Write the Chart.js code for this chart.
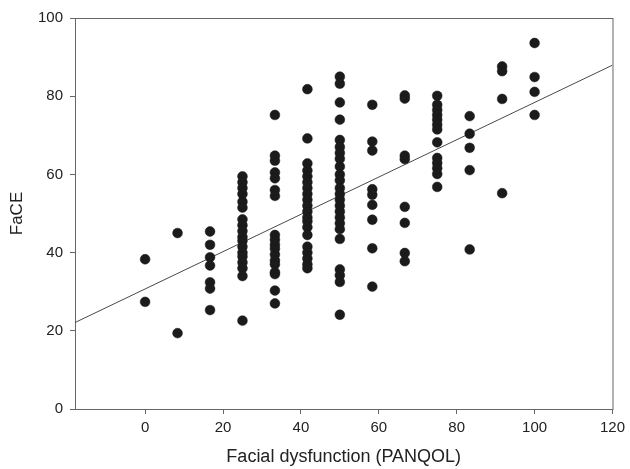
<!DOCTYPE html>
<html lang="en">
<head>
  <meta charset="UTF-8" />
  <title>FaCE vs PANQOL facial dysfunction</title>
  <script src="https://cdn.jsdelivr.net/npm/chart.js"></script>
  <style>
    html, body { margin: 0; padding: 0; background: #fff; }
    canvas { display: block; }
  </style>
</head>
<body>
  <canvas id="scatter" width="630" height="469"></canvas>

  <script>
    // PANQOL facial dysfunction levels (x) and the FaCE scores seen at each level
    const panqolLevels = [0, 8.33, 16.67, 25, 33.33, 41.67, 50, 58.33, 66.67, 75, 83.33, 91.67, 100];
    const faceScores = [
      [38.3, 27.4],
      [45.0, 19.4],
      [45.4, 42.0, 38.8, 36.7, 32.4, 30.8, 25.3],
      [59.5, 58, 56.5, 55, 53, 51.5, 48.5, 47, 45.5, 44, 43, 41.5, 40, 39, 37.5, 36, 34, 22.6],
      [75.2, 64.8, 63.5, 60.5, 59, 56, 54.5, 44.5, 43.3, 42, 41, 39.5, 38, 37, 35, 34.5, 30.3, 27],
      [81.8, 69.2, 62.8, 61, 59.5, 58, 56.5, 55, 53.5, 52, 50.5, 49, 48, 46.5, 44.5, 41.5, 40, 38.5, 37, 36],
      [85, 83.2, 78.4, 74, 68.8, 67, 65.5, 64, 62, 60, 58.5, 56.5, 55, 53.5, 52, 50.5, 49, 47.5, 46, 43.5, 35.7, 34.2, 32.5, 24.1],
      [77.8, 68.4, 66.1, 56.2, 54.8, 52.2, 48.4, 41.1, 31.3],
      [80.2, 79.4, 64.8, 63.9, 51.7, 47.6, 39.9, 37.8],
      [80.1, 77.8, 76.5, 75.2, 74, 72.7, 71.5, 68.2, 64.2, 62.9, 61.6, 60.1, 56.8],
      [74.9, 70.4, 66.8, 61.1, 40.8],
      [87.6, 86.4, 79.3, 55.2],
      [93.6, 84.9, 81.1, 75.2]
    ];

    // linear fit line drawn across the whole x range
    const fitIntercept = 30.7;
    const fitSlope = 0.477;
    const xRange = [-18, 120];
    const yRange = [0, 100];
    const xTicks = [0, 20, 40, 60, 80, 100, 120];
    const yTicks = [0, 20, 40, 60, 80, 100];

    const points = [];
    panqolLevels.forEach((x, i) => {
      faceScores[i].forEach(y => points.push({ x: x, y: y }));
    });
    const fitLine = xRange.map(x => ({ x: x, y: fitIntercept + fitSlope * x }));

    // box around the plot area (top and right sides too)
    const frame = {
      id: "frame",
      beforeDatasetsDraw(chart) {
        const { ctx, chartArea: a } = chart;
        ctx.save();
        ctx.strokeStyle = "#666";
        ctx.lineWidth = 1;
        ctx.strokeRect(a.left + 0.5, a.top + 0.5, a.right - a.left, a.bottom - a.top);
        ctx.restore();
      }
    };

    const family = "'Liberation Sans', Arial, sans-serif";

    new Chart(document.getElementById("scatter"), {
      type: "scatter",
      data: {
        datasets: [
          {
            label: "Fit",
            type: "line",
            data: fitLine,
            borderColor: "#4a4a4a",
            borderWidth: 1,
            pointRadius: 0,
            fill: false,
            order: 2
          },
          {
            label: "Patients",
            data: points,
            backgroundColor: "#1b1b1b",
            borderColor: "#1b1b1b",
            borderWidth: 0.5,
            pointRadius: 4.9,
            order: 1
          }
        ]
      },
      options: {
        responsive: false,
        animation: false,
        layout: { padding: { top: 18, right: 12, bottom: 0, left: 0 } },
        plugins: {
          legend: { display: false },
          tooltip: { enabled: false }
        },
        scales: {
          x: {
            type: "linear",
            min: xRange[0],
            max: xRange[1],
            afterBuildTicks: s => { s.ticks = xTicks.map(v => ({ value: v })); },
            afterFit: s => { s.height = 60; },
            grid: { drawOnChartArea: false, drawTicks: true, tickLength: 5, color: "#666" },
            border: { color: "#666" },
            ticks: { color: "#222", font: { family: family, size: 15 }, padding: 5, maxRotation: 0 },
            title: {
              display: true,
              text: "Facial dysfunction (PANQOL)",
              color: "#222",
              font: { family: family, size: 18 },
              padding: { top: 2, bottom: 1 }
            }
          },
          y: {
            type: "linear",
            min: yRange[0],
            max: yRange[1],
            afterBuildTicks: s => { s.ticks = yTicks.map(v => ({ value: v })); },
            afterFit: s => { s.width = 75; },
            grid: { drawOnChartArea: false, drawTicks: true, tickLength: 5, color: "#666" },
            border: { color: "#666" },
            ticks: { color: "#222", font: { family: family, size: 15 }, padding: 7 },
            title: {
              display: true,
              text: "FaCE",
              color: "#222",
              font: { family: family, size: 17 },
              padding: { top: 7, bottom: 4 }
            }
          }
        }
      },
      plugins: [frame]
    });
  </script>
</body>
</html>
